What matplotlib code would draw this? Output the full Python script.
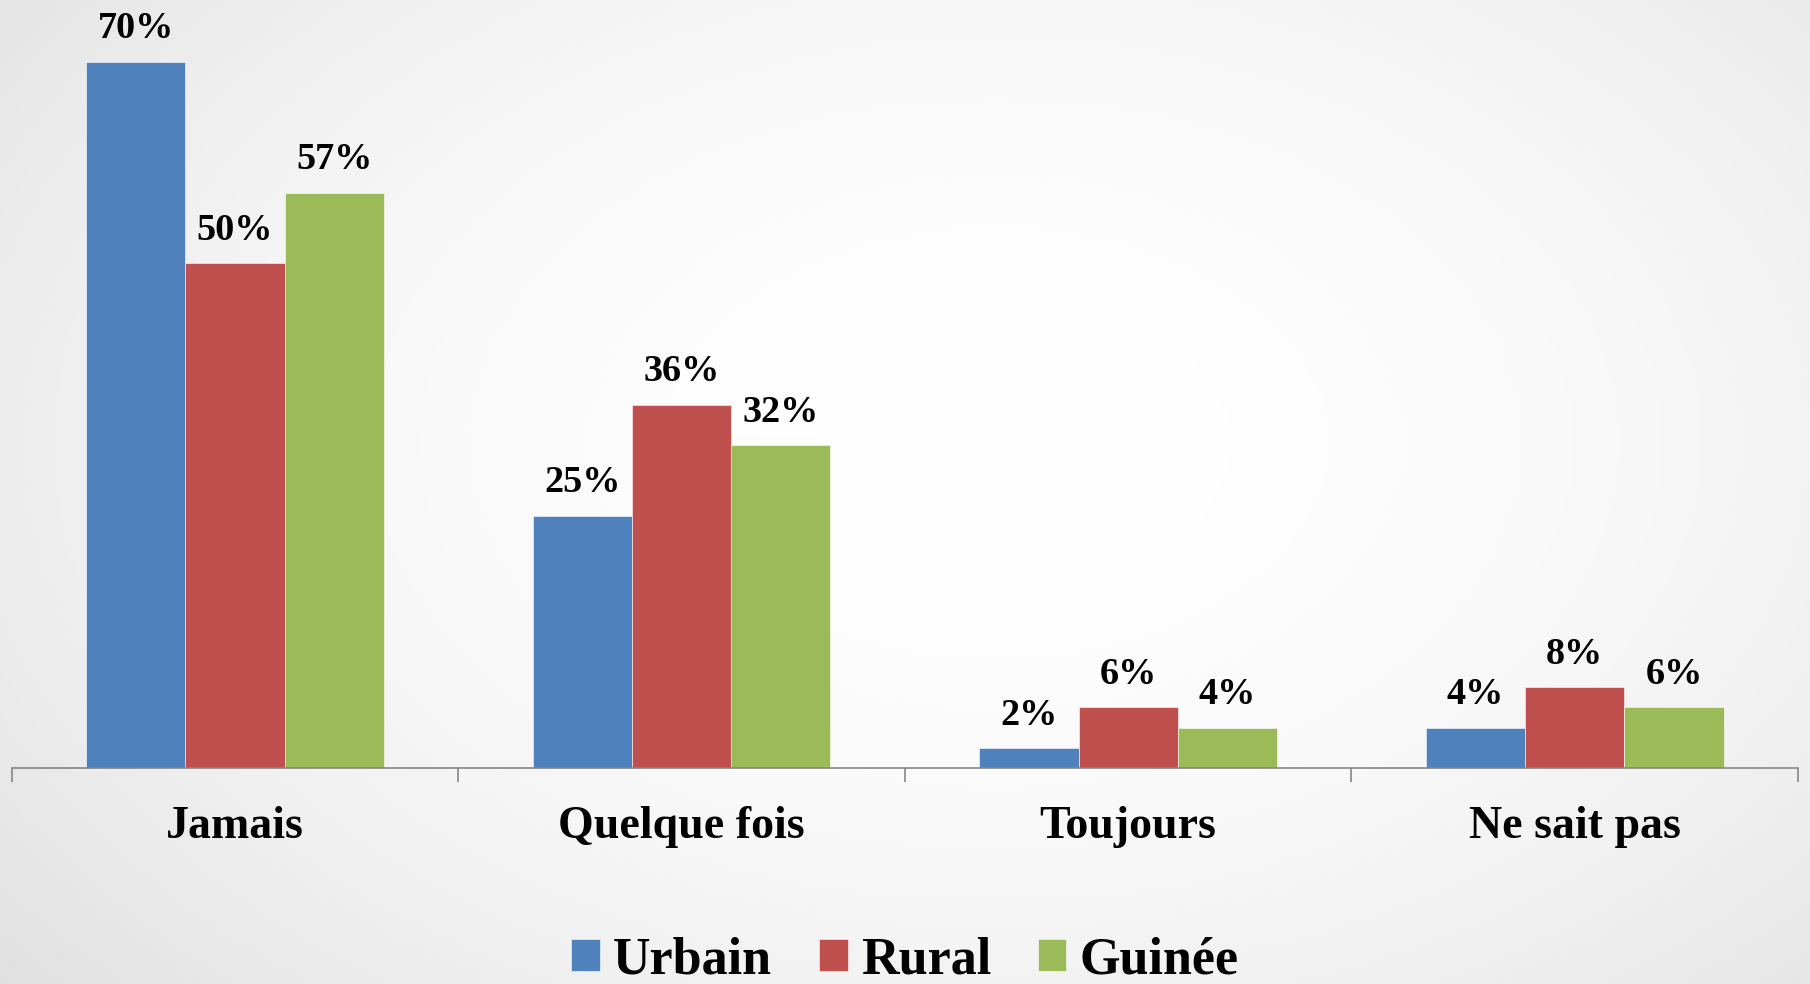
import matplotlib
import numpy as np
from matplotlib import pyplot as plt

matplotlib.use('Agg')

categories = ['Jamais', 'Quelque fois', 'Toujours', 'Ne sait pas']
series = ['Urbain', 'Rural', 'Guinée']
urbain = [70, 25, 2, 4]
rural = [50, 36, 6, 8]
guinee = [57, 32, 4, 6]
colors = ['#4F81BD', '#C0504D', '#9BBB59']

plt.rc('font', family='Liberation Serif', weight='bold')


def background(fig):
    bg = fig.add_axes([0, 0, 1, 1], zorder=-10)
    yy, xx = np.mgrid[0:1:200j, 0:1:360j]
    r = np.sqrt(((xx - 0.55) / 0.75) ** 2 + ((yy - 0.55) / 0.9) ** 2)
    shade = 1.0 - 0.13 * np.clip(r, 0, 1.2) ** 2
    bg.imshow(np.dstack([shade] * 3), extent=[0, 1, 0, 1], aspect='auto', origin='lower')
    bg.set_axis_off()


def main():
    fig = plt.figure(figsize=(18.1, 9.84), dpi=100)
    background(fig)
    ax = fig.add_axes([0.0064, 0.2195, 0.9870, 0.7805])
    ax.patch.set_alpha(0)

    width = 1.0 / 4.5
    x = np.arange(len(categories))
    data = [urbain, rural, guinee]
    for i in range(len(series)):
        pos = x + (i - 1) * width
        bars = ax.bar(pos, data[i], width=width, color=colors[i], label=series[i],
                      edgecolor='white', linewidth=0.4)
        for b, v in zip(bars, data[i]):
            ax.annotate(str(v) + '%', (b.get_x() + b.get_width() / 2, b.get_height()),
                        xytext=(0, 11), textcoords='offset points',
                        ha='center', va='bottom', fontsize=27.5, fontweight='bold')

    ax.set_xlim(-0.5, 3.5)
    ax.set_ylim(0, 76.1)
    ax.set_xticks(x)
    ax.set_xticklabels(categories, fontsize=33, fontweight='bold')
    ax.tick_params(axis='x', which='major', length=0, pad=27)
    ax.set_xticks(np.arange(-0.5, 4, 1), minor=True)
    ax.tick_params(axis='x', which='minor', length=10, width=1.2, color='#868686')
    ax.set_yticks([])
    for s in ['top', 'right', 'left']:
        ax.spines[s].set_visible(False)
    ax.spines['bottom'].set_color('#868686')
    ax.spines['bottom'].set_linewidth(1.2)

    fig.legend(loc='center', bbox_to_anchor=(0.5, 0.024), ncol=3, frameon=False,
               prop={'size': 37.5, 'weight': 'bold'}, handlelength=0.55, handleheight=0.55,
               handletextpad=0.25, columnspacing=0.9, borderpad=0.1)

    plt.savefig('out.png', dpi=100)
    plt.close()


if __name__ == '__main__':
    main()
